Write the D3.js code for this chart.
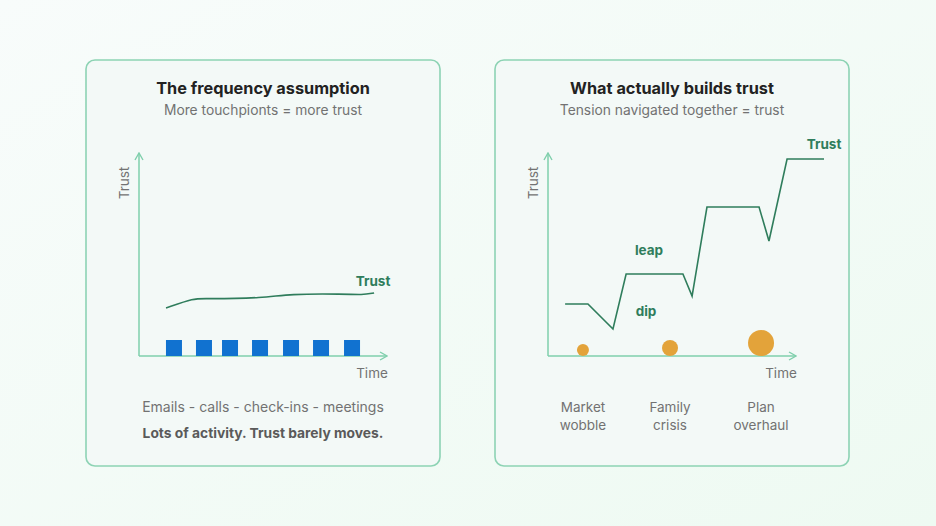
<!DOCTYPE html>
<html><head><meta charset="utf-8">
<script src="https://cdn.jsdelivr.net/npm/d3@7"></script>
<style>
html,body{margin:0;padding:0;}
body{width:936px;height:526px;overflow:hidden;font-family:Inter,"Noto Sans",sans-serif;}
</style></head>
<body><svg id="c" width="936" height="526"></svg>
<script>
// ---- data ----
const panelTitles = ["The frequency assumption", "What actually builds trust"];
const panelSubtitles = ["More touchpionts = more trust", "Tension navigated together = trust"];
// left: activity bars (time positions, 0-100 scale) and a flat trust line
const activityTimes = [14.1, 26.2, 36.7, 48.8, 61.3, 73.4, 85.9];
const flatTrustT = [10.9, 22.6, 25.8, 50.8, 60.1, 83.1, 89.9, 94.8];
const flatTrustV = [22.8, 28, 27.5, 28, 30.1, 30.1, 29.5, 30.6];
// right: step trust line
const stepTrustT = [6.9, 16.1, 26.2, 31.5, 54.4, 58.1, 64.1, 85.1, 89.1, 96.4, 111.3];
const stepTrustV = [24.9, 24.9, 11.9, 40.4, 40.4, 29, 75.1, 75.1, 57.5, 100, 100];
// events
const eventNames = [["Market", "wobble"], ["Family", "crisis"], ["Plan", "overhaul"]];
const eventTimes = [14.1, 49.2, 85.9];
const eventSize = [6, 8, 13];
const leftCaptions = ["Emails - calls - check-ins - meetings", "Lots of activity. Trust barely moves."];

const svg = d3.select("#c");
const defs = svg.append("defs");
const g = defs.append("linearGradient").attr("id","bg").attr("x1","0").attr("y1","0").attr("x2","1").attr("y2","1");
g.append("stop").attr("offset","0").attr("stop-color","#f8fcfb");
g.append("stop").attr("offset","1").attr("stop-color","#eefaf2");
svg.append("rect").attr("width",936).attr("height",526).attr("fill","url(#bg)");

const mk = defs.append("marker").attr("id","arr").attr("viewBox","0 0 10 10").attr("refX",9).attr("refY",5)
  .attr("markerWidth",10).attr("markerHeight",10).attr("markerUnits","userSpaceOnUse").attr("orient","auto");
mk.append("path").attr("d","M2,1 L9,5 L2,9").attr("fill","none").attr("stroke","#7fcfac").attr("stroke-width",1.4);

const panels = [{x:86,y:60},{x:495,y:60}];
const PW = 354, PH = 406;
const axisColor = "#7fcfac", lineColor = "#2f7d5c", grey = "#727272";

panels.forEach((p,i)=>{
  const pg = svg.append("g").attr("transform",`translate(${p.x},${p.y})`);
  pg.append("rect").attr("x",0).attr("y",0).attr("width",PW).attr("height",PH).attr("rx",9)
    .attr("fill","#f3f9f7").attr("stroke","#8dd3b4").attr("stroke-width",1.6);
  pg.append("text").attr("x",PW/2).attr("y",34).attr("text-anchor","middle")
    .attr("font-size",16.3).attr("font-weight",700).attr("fill","#222").text(panelTitles[i]);
  pg.append("text").attr("x",PW/2).attr("y",55).attr("text-anchor","middle")
    .attr("font-size",13.8).attr("fill",grey).text(panelSubtitles[i]);

  // axes
  const x0 = 53, yAxisTop = 93, yBase = 296, xEnd = 301;
  const x = d3.scaleLinear().domain([0,100]).range([x0, xEnd]);
  const y = d3.scaleLinear().domain([0,100]).range([yBase-4, 99]);
  pg.append("line").attr("x1",x0).attr("y1",yBase).attr("x2",x0).attr("y2",yAxisTop)
    .attr("stroke",axisColor).attr("stroke-width",1.5).attr("marker-end","url(#arr)");
  pg.append("line").attr("x1",x0).attr("y1",yBase).attr("x2",xEnd).attr("y2",yBase)
    .attr("stroke",axisColor).attr("stroke-width",1.5).attr("marker-end","url(#arr)");
  pg.append("text").attr("transform",`translate(${x0-10},${123}) rotate(-90)`).attr("text-anchor","middle")
    .attr("font-size",13.5).attr("fill",grey).text("Trust");
  pg.append("text").attr("x",286).attr("y",318).attr("text-anchor","middle")
    .attr("font-size",13.5).attr("fill",grey).text("Time");

  if(i===0){
    pg.selectAll("rect.bar").data(activityTimes).enter().append("rect").attr("class","bar")
      .attr("x",d=>x(d)-8).attr("y",yBase-16).attr("width",16).attr("height",16).attr("fill","#1172d0");
    const line = d3.line().x(d=>x(d[0])).y(d=>y(d[1])).curve(d3.curveBasis);
    pg.append("path").datum(d3.zip(flatTrustT,flatTrustV)).attr("d",line)
      .attr("fill","none").attr("stroke",lineColor).attr("stroke-width",1.6);
    pg.append("text").attr("x",287).attr("y",226).attr("text-anchor","middle")
      .attr("font-size",13.5).attr("font-weight",700).attr("fill",lineColor).text("Trust");
    leftCaptions.forEach((t,k)=>{
      pg.append("text").attr("x",PW/2).attr("y",352+k*26).attr("text-anchor","middle")
        .attr("font-size",k?13.8:14).attr("font-weight",k?700:400).attr("fill",k?"#5a5a5a":grey).text(t);
    });
  } else {
    const line = d3.line().x(d=>x(d[0])).y(d=>y(d[1]));
    pg.append("path").datum(d3.zip(stepTrustT,stepTrustV)).attr("d",line)
      .attr("fill","none").attr("stroke",lineColor).attr("stroke-width",1.6).attr("stroke-linejoin","miter");
    pg.selectAll("circle").data(eventTimes).enter().append("circle")
      .attr("cx",d=>x(d)).attr("cy",(d,k)=>yBase-eventSize[k]).attr("r",(d,k)=>eventSize[k])
      .attr("fill","#e3a33a");
    pg.append("text").attr("x",329).attr("y",89).attr("text-anchor","middle")
      .attr("font-size",13.5).attr("font-weight",700).attr("fill",lineColor).text("Trust");
    pg.append("text").attr("x",154).attr("y",195).attr("text-anchor","middle")
      .attr("font-size",13.5).attr("font-weight",700).attr("fill",lineColor).text("leap");
    pg.append("text").attr("x",151).attr("y",256).attr("text-anchor","middle")
      .attr("font-size",13.5).attr("font-weight",700).attr("fill",lineColor).text("dip");
    eventNames.forEach((nm,k)=>{
      nm.forEach((t,j)=>{
        pg.append("text").attr("x",x(eventTimes[k])).attr("y",352+j*18).attr("text-anchor","middle")
          .attr("font-size",13.5).attr("fill",grey).text(t);
      });
    });
  }
});
</script></body></html>
